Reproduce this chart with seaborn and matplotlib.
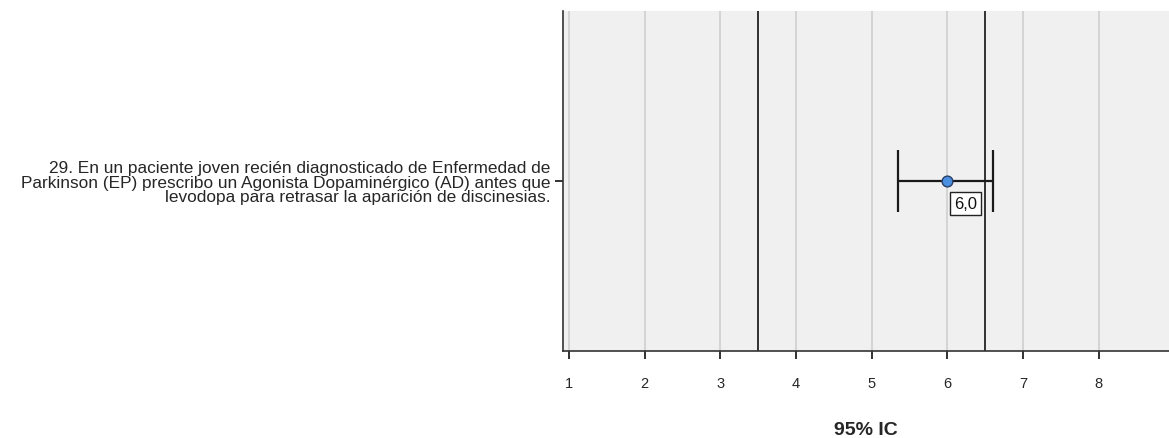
import matplotlib
matplotlib.use("Agg")
import matplotlib.pyplot as plt
import seaborn as sns
import pandas as pd

items = ["29. En un paciente joven recién diagnosticado de Enfermedad de\n"
         "Parkinson (EP) prescribo un Agonista Dopaminérgico (AD) antes que\n"
         "levodopa para retrasar la aparición de discinesias."]
means = [6.0]
ci_low = [5.35]
ci_high = [6.6]
value_labels = ["6,0"]
ref_lines = [3.5, 6.5]
x_ticks = [1, 2, 3, 4, 5, 6, 7, 8]

df = pd.DataFrame({"item": items, "mean": means, "lo": ci_low, "hi": ci_high, "lab": value_labels})

sns.set_theme(style="white")
plt.rcParams["font.family"] = ["Liberation Sans", "DejaVu Sans"]

fig = plt.figure(figsize=(11.69, 4.39), dpi=100)
ax = fig.add_axes([563/1169, 1-352/439, 1-563/1169, (352-12)/439])
ax.set_facecolor("#F0F0F0")

for t in x_ticks:
    ax.axvline(t, color="#CCCCCC", lw=1.1, zorder=0)
for r in ref_lines:
    ax.axvline(r, color="#222222", lw=1.3, zorder=1)

ypos = list(range(len(df)))
ax.errorbar(df["mean"], ypos, xerr=[df["mean"] - df["lo"], df["hi"] - df["mean"]],
            fmt="none", ecolor="#1a1a1a", elinewidth=1.6, capsize=22, capthick=1.6, zorder=3)
sns.scatterplot(x=df["mean"], y=ypos, ax=ax, s=60, color="#4A8FE0",
                edgecolor="#2a3f66", linewidth=1.0, zorder=4, legend=False)
for m, y, lab in zip(df["mean"], ypos, df["lab"]):
    ax.annotate(lab, (m, y), xytext=(5, -16), textcoords="offset points",
                fontsize=12, ha="left", va="center", color="#111111",
                bbox=dict(boxstyle="square,pad=0.25", fc="white", ec="#222222", lw=1.0), zorder=5)

ax.set_xlim(0.92, 8.93)
ax.set_ylim(-1.5, 1.5)
ax.set_yticks(ypos)
ax.set_yticklabels(df["item"], fontsize=12.4, ha="right", linespacing=0.92)
ax.set_xticks(x_ticks)
ax.set_xticklabels([str(t) for t in x_ticks], fontsize=10.5)
ax.tick_params(axis="both", direction="out", length=6, width=1.3, color="#222222",
               bottom=True, left=True)
ax.tick_params(axis="x", pad=12)
ax.tick_params(axis="y", pad=3)
for s in ["top", "right"]:
    ax.spines[s].set_visible(False)
for s in ["left", "bottom"]:
    ax.spines[s].set_color("#333333")
    ax.spines[s].set_linewidth(1.2)
ax.set_xlabel("95% IC", fontsize=14, fontweight="bold", labelpad=22)
ax.set_ylabel("")

fig.savefig("out.png", dpi=100)
